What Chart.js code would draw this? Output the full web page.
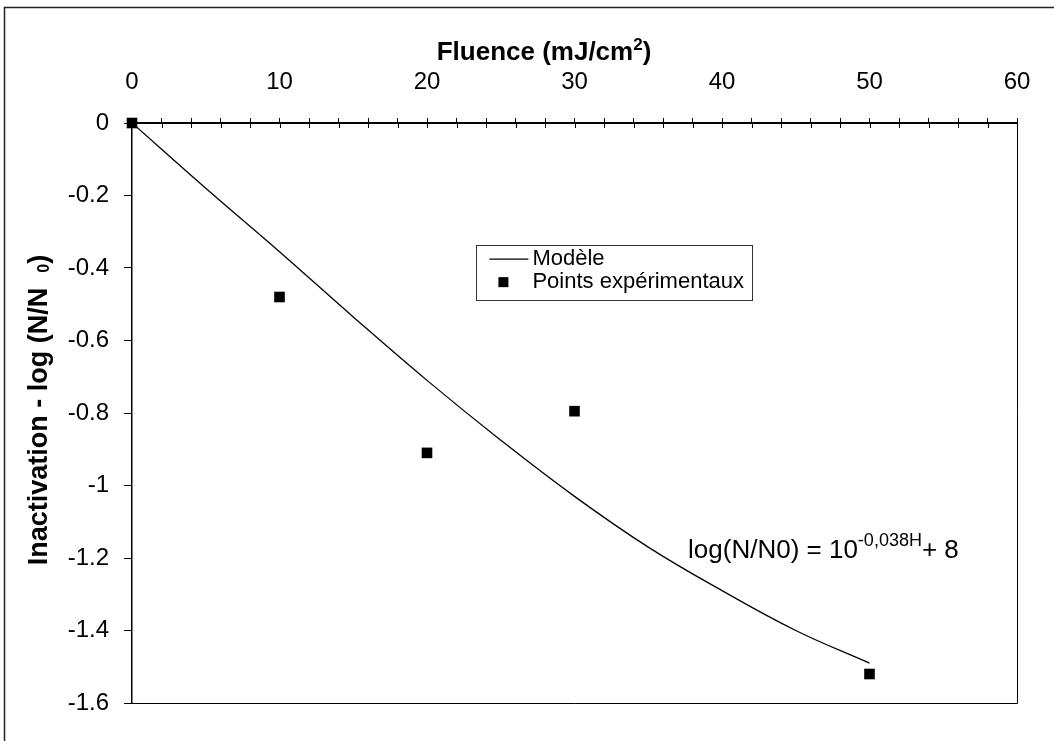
<!DOCTYPE html>
<html>
<head>
<meta charset="utf-8">
<script src="https://cdn.jsdelivr.net/npm/chart.js@4.4.1/dist/chart.umd.min.js"></script>
<style>
  html, body { margin: 0; padding: 0; background: #fff; }
  #wrap { width: 1054px; height: 741px; }
</style>
</head>
<body>
<div id="wrap"><canvas id="chart" width="1054" height="741"></canvas></div>
<script>
// measured points (fluence in mJ/cm2, inactivation log N/N0)
const fluence = [0, 10, 20, 30, 50];
const measured = [0, -0.48, -0.91, -0.795, -1.52];

// model curve
const modelFluence = [0, 5, 10, 15, 20, 25, 30, 35, 40, 45, 50];
const modelValues = [0, -0.18, -0.355, -0.535, -0.71, -0.875, -1.03, -1.17, -1.29, -1.40, -1.49];

const seriesNames = ["Modèle", "Points expérimentaux"];
const xRange = [0, 60];
const yRange = [-1.6, 0];

const FONT = "'Liberation Sans', Arial, sans-serif";

// text drawn in pieces: [text, size, raise]
function drawRuns(ctx, runs, x, y, bold) {
  let cx = x;
  runs.forEach(([txt, size, raise]) => {
    ctx.font = (bold ? "bold " : "") + size + "px " + FONT;
    ctx.fillText(txt, cx, y - raise);
    cx += ctx.measureText(txt).width;
  });
  return cx - x;
}
function runsWidth(ctx, runs, bold) {
  let w = 0;
  runs.forEach(([txt, size]) => {
    ctx.font = (bold ? "bold " : "") + size + "px " + FONT;
    w += ctx.measureText(txt).width;
  });
  return w;
}

const decor = {
  id: "decor",
  beforeDraw(chart) {
    const ctx = chart.ctx;
    ctx.save();
    ctx.fillStyle = "#fff";
    ctx.fillRect(0, 0, chart.width, chart.height);
    // outer frame of the scanned figure
    ctx.strokeStyle = "#222";
    ctx.lineWidth = 1.5;
    ctx.beginPath();
    ctx.moveTo(4.5, chart.height);
    ctx.lineTo(4.5, 7.5);
    ctx.lineTo(chart.width, 7.5);
    ctx.stroke();
    ctx.restore();
  },
  afterDatasetsDraw(chart) {
    const { ctx, chartArea: a, scales: { x, y } } = chart;
    ctx.save();
    ctx.strokeStyle = "#000";
    // right and bottom edges of plot box
    ctx.lineWidth = 1;
    ctx.beginPath();
    ctx.moveTo(a.left, a.bottom + 0.5);
    ctx.lineTo(a.right + 0.5, a.bottom + 0.5);
    ctx.lineTo(a.right + 0.5, a.top);
    ctx.stroke();
    // tick marks crossing into the plot along the top axis
    ctx.beginPath();
    x.ticks.forEach((t) => {
      const px = Math.round(x.getPixelForValue(t.value)) + 0.5;
      ctx.moveTo(px, a.top);
      ctx.lineTo(px, a.top + 5);
    });
    ctx.stroke();

    ctx.fillStyle = "#000";
    ctx.textBaseline = "alphabetic";
    ctx.textAlign = "left";

    // x title
    const xt = [["Fluence (mJ/cm", 26, 0], ["2", 17, 10], [")", 26, 0]];
    const xtw = runsWidth(ctx, xt, true);
    drawRuns(ctx, xt, 544 - xtw / 2, 60, true);

    // y title, rotated
    const yt = [["Inactivation - log (N/N  ", 27, 0], ["0", 16, -2], [")", 27, 0]];
    const ytw = runsWidth(ctx, yt, true);
    ctx.save();
    ctx.translate(47, 410);
    ctx.rotate(-Math.PI / 2);
    drawRuns(ctx, yt, -ytw / 2, 0, true);
    ctx.restore();

    // equation of the model
    const eq = [["log(N/N0) = 10", 26, 0], ["-0,038H", 18, 12], ["+ 8", 26, 0]];
    drawRuns(ctx, eq, x.getPixelForValue(37.7), y.getPixelForValue(-1.2), false);

    // legend box
    const lx = x.getPixelForValue(23.35), ly = y.getPixelForValue(-0.337);
    const lw = 276, lh = 55;
    ctx.fillStyle = "#fff";
    ctx.fillRect(lx, ly, lw, lh);
    ctx.lineWidth = 1;
    ctx.strokeStyle = "#333";
    ctx.strokeRect(Math.round(lx) + 0.5, Math.round(ly) + 0.5, lw, lh);
    ctx.fillStyle = "#000";
    ctx.font = "22px " + FONT;
    ctx.textBaseline = "middle";
    const ds = chart.data.datasets;
    // line entry
    ctx.strokeStyle = ds[0].borderColor;
    ctx.lineWidth = ds[0].borderWidth;
    ctx.beginPath();
    ctx.moveTo(lx + 13, ly + 14);
    ctx.lineTo(lx + 52, ly + 14);
    ctx.stroke();
    ctx.fillText(ds[0].label, lx + 56, ly + 14);
    // point entry
    ctx.fillRect(lx + 22, ly + 32, 10, 10);
    ctx.fillText(ds[1].label, lx + 56, ly + 37);
    ctx.restore();
  }
};

new Chart(document.getElementById("chart"), {
  type: "scatter",
  data: {
    datasets: [
      {
        label: seriesNames[0],
        data: modelFluence.map((f, i) => ({ x: f, y: modelValues[i] })),
        showLine: true,
        borderColor: "#000",
        borderWidth: 1.3,
        pointRadius: 0,
        tension: 0.4,
        fill: false
      },
      {
        label: seriesNames[1],
        data: fluence.map((f, i) => ({ x: f, y: measured[i] })),
        showLine: false,
        pointStyle: "rect",
        pointRadius: 7.5,
        backgroundColor: "#000",
        borderColor: "#000",
        borderWidth: 0,
        clip: false
      }
    ]
  },
  options: {
    responsive: false,
    animation: false,
    events: [],
    layout: { padding: { left: 0, top: 0, right: 37, bottom: 38 } },
    plugins: {
      legend: { display: false },
      tooltip: { enabled: false },
      title: { display: false }
    },
    scales: {
      x: {
        type: "linear",
        position: "top",
        min: xRange[0],
        max: xRange[1],
        afterFit: (s) => { s.height = 123; },
        ticks: {
          stepSize: 2,
          autoSkip: false,
          maxRotation: 0,
          padding: 21,
          color: "#000",
          font: { family: FONT, size: 24 },
          callback: (v) => (v % 10 === 0 ? String(v) : "")
        },
        grid: { drawOnChartArea: false, tickLength: 5, color: "#000" },
        border: { color: "#000", width: 2 }
      },
      y: {
        type: "linear",
        min: yRange[0],
        max: yRange[1],
        afterFit: (s) => { s.width = 132; },
        ticks: {
          stepSize: 0.2,
          padding: 15,
          color: "#000",
          font: { family: FONT, size: 24 },
          callback: (v) => String(Math.round(v * 10) / 10)
        },
        grid: { drawOnChartArea: false, tickLength: 8, color: "#000" },
        border: { color: "#000", width: 1.5 }
      }
    }
  },
  plugins: [decor]
});
</script>
</body>
</html>
